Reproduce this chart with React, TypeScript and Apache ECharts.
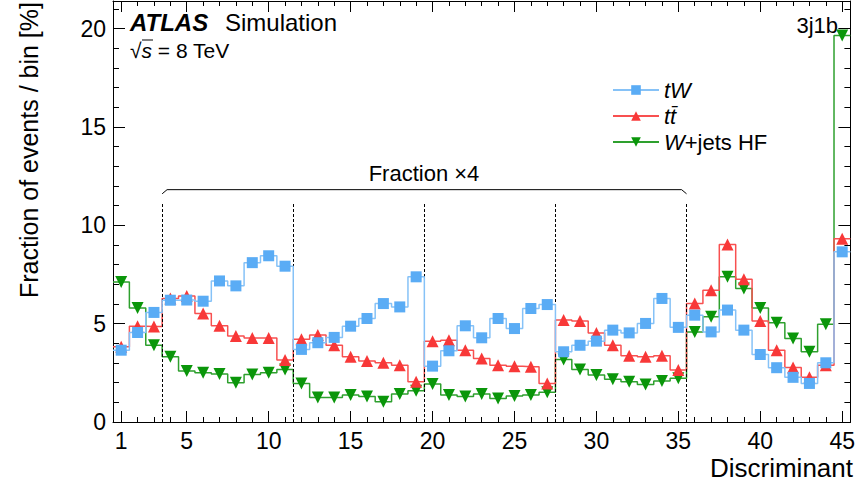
import React, { useEffect, useRef } from "react";
import * as echarts from "echarts";

// ---- Data ----
const tW = [3.65, 4.55, 5.57, 6.19, 6.2, 6.14, 7.17, 6.92, 8.1, 8.45, 7.92, 3.69, 4.03, 4.3, 4.87, 5.26, 6.02, 5.85, 7.38, 2.84, 3.62, 4.89, 4.28, 5.26, 4.75, 5.77, 5.97, 3.57, 3.9, 4.11, 4.67, 4.53, 5.01, 6.28, 4.81, 5.43, 4.58, 5.69, 4.67, 3.43, 2.76, 2.27, 1.96, 3.01, 8.65];
const ttbar = [3.82, 4.87, 4.85, 6.28, 6.4, 5.52, 4.89, 4.37, 4.27, 4.27, 3.15, 4.21, 4.42, 3.9, 3.32, 3.1, 3.01, 2.89, 2.05, 4.11, 4.16, 3.65, 3.23, 2.89, 2.84, 2.81, 1.96, 5.18, 5.13, 4.53, 3.9, 3.37, 3.32, 3.37, 2.64, 6.02, 6.7, 9.02, 7.26, 5.13, 3.65, 2.77, 2.27, 2.89, 9.32];
const wjetsHF = [7.12, 5.8, 3.9, 3.32, 2.59, 2.5, 2.44, 2.0, 2.42, 2.5, 2.67, 1.96, 1.25, 1.25, 1.37, 1.3, 1.03, 1.42, 1.59, 1.93, 1.37, 1.29, 1.42, 1.2, 1.32, 1.37, 1.51, 3.18, 2.67, 2.39, 2.17, 2.05, 1.91, 2.08, 2.22, 4.58, 5.35, 7.38, 6.79, 5.8, 5.04, 4.25, 3.57, 4.97, 19.65];

const xMajorTicks = [1, 5, 10, 15, 20, 25, 30, 35, 40, 45];
const yMajorTicks = [0, 5, 10, 15, 20];
const groupEdges = [3.5, 11.5, 19.5, 27.5, 35.5];
const braceTop = 11.81;
const braceEnd = 11.6;
const dashTop = 11.13;
const xMin = 0.5;
const xMax = 45.5;
const yMin = 0;
const yMax = 21.4;

const FONT = '"Liberation Sans", Arial, Helvetica, sans-serif';

function stepData(values: number[]) {
  const pts: any[] = [];
  pts.push({ value: [0.5, values[0]], symbol: "none" });
  values.forEach((v, i) => pts.push([i + 1, v]));
  pts.push({ value: [values.length + 0.5, values[values.length - 1]], symbol: "none" });
  return pts;
}

function range(a: number, b: number) {
  const r: number[] = [];
  for (let i = a; i <= b; i++) r.push(i);
  return r;
}

export default function App() {
  const ref = useRef<HTMLDivElement>(null);
  useEffect(() => {
    if (!ref.current) return;
    const chart = echarts.init(ref.current, undefined, { renderer: "svg" });
    const black = { color: "#000", width: 1 };
    const xMinor = range(1, 45);
    const yMinor = range(0, 21);
    const xBase = { type: "value", min: xMin, max: xMax, splitLine: { show: false } };
    const yBase = { type: "value", min: yMin, max: yMax, splitLine: { show: false } };
    const option: any = {
      animation: false,
      backgroundColor: "#fff",
      grid: { left: 113, right: 5, top: 1, bottom: 69 },
      xAxis: [
        {
          ...xBase,
          position: "bottom",
          axisLine: { show: true, onZero: false, lineStyle: black },
          axisTick: { show: true, inside: true, length: 11, customValues: xMajorTicks, lineStyle: black },
          axisLabel: { show: true, customValues: xMajorTicks, fontSize: 23, color: "#000", margin: 7, fontFamily: FONT },
        },
        {
          ...xBase,
          position: "bottom",
          axisLine: { show: false, onZero: false },
          axisTick: { show: true, inside: true, length: 5, customValues: xMinor, lineStyle: black },
          axisLabel: { show: false },
        },
        {
          ...xBase,
          position: "top",
          axisLine: { show: true, onZero: false, lineStyle: black },
          axisTick: { show: true, inside: true, length: 11, customValues: xMajorTicks, lineStyle: black },
          axisLabel: { show: false },
        },
        {
          ...xBase,
          position: "top",
          axisLine: { show: false, onZero: false },
          axisTick: { show: true, inside: true, length: 5, customValues: xMinor, lineStyle: black },
          axisLabel: { show: false },
        },
      ],
      yAxis: [
        {
          ...yBase,
          position: "left",
          axisLine: { show: true, onZero: false, lineStyle: black },
          axisTick: { show: true, inside: true, length: 12, customValues: yMajorTicks, lineStyle: black },
          axisLabel: { show: true, customValues: yMajorTicks, fontSize: 23, color: "#000", margin: 7, fontFamily: FONT },
        },
        {
          ...yBase,
          position: "left",
          axisLine: { show: false, onZero: false },
          axisTick: { show: true, inside: true, length: 6, customValues: yMinor, lineStyle: black },
          axisLabel: { show: false },
        },
        {
          ...yBase,
          position: "right",
          axisLine: { show: true, onZero: false, lineStyle: black },
          axisTick: { show: true, inside: true, length: 12, customValues: yMajorTicks, lineStyle: black },
          axisLabel: { show: false },
        },
        {
          ...yBase,
          position: "right",
          axisLine: { show: false, onZero: false },
          axisTick: { show: true, inside: true, length: 6, customValues: yMinor, lineStyle: black },
          axisLabel: { show: false },
        },
      ],
      legend: {
        orient: "vertical",
        left: 607,
        top: 74,
        itemWidth: 46,
        itemHeight: 12,
        itemGap: 4,
        data: ["tW", "tt\u0304", "W+jets HF"],
        formatter: (name: string) => {
          if (name === "tW") return "{i|tW}";
          if (name === "W+jets HF") return "{i|W}{n|+jets HF}";
          return "{i|tt\u0304}";
        },
        textStyle: {
          fontSize: 22,
          color: "#000",
          fontFamily: FONT,
          rich: {
            i: { fontStyle: "italic", fontSize: 22, fontFamily: FONT, color: "#000", lineHeight: 22 },
            n: { fontSize: 22, fontFamily: FONT, color: "#000", lineHeight: 22 },
          },
        },
      },
      series: [
        {
          name: "W+jets HF",
          type: "line",
          step: "middle",
          data: stepData(wjetsHF),
          symbol: "triangle",
          symbolRotate: 180,
          symbolSize: 12,
          itemStyle: { color: "#0a960a" },
          lineStyle: { color: "#2ea02e", width: 1.5 },
          z: 3,
        },
        {
          name: "tt\u0304",
          type: "line",
          step: "middle",
          data: stepData(ttbar),
          symbol: "triangle",
          symbolSize: 12,
          itemStyle: { color: "#f83838" },
          lineStyle: { color: "#f85050", width: 1.5 },
          z: 4,
        },
        {
          name: "tW",
          type: "line",
          step: "middle",
          data: stepData(tW),
          symbol: "rect",
          symbolSize: 11,
          itemStyle: { color: "#5aacf5" },
          lineStyle: { color: "#86c2f7", width: 1.5 },
          z: 5,
        },
        {
          name: "brace",
          type: "line",
          silent: true,
          symbol: "none",
          data: [
            [groupEdges[0], braceEnd],
            [groupEdges[0] + 0.3, braceTop],
            [groupEdges[groupEdges.length - 1] - 0.3, braceTop],
            [groupEdges[groupEdges.length - 1], braceEnd],
          ],
          lineStyle: { color: "#000", width: 1 },
          markLine: {
            silent: true,
            symbol: ["none", "none"],
            label: { show: false },
            lineStyle: { color: "#000", width: 1, type: [3, 2] },
            data: groupEdges.map((x) => [{ coord: [x, yMin] }, { coord: [x, dashTop] }]),
          },
          z: 2,
        },
      ],
      graphic: [
        { type: "text", x: 130, y: 22, style: { text: "ATLAS", font: `italic bold 24px ${FONT}`, fill: "#000", textVerticalAlign: "middle" } },
        { type: "text", x: 225, y: 22, style: { text: "Simulation", font: `24px ${FONT}`, fill: "#000", textVerticalAlign: "middle" } },
        {
          type: "text",
          x: 130,
          y: 50,
          style: {
            text: "√{i|s} = 8 TeV",
            font: `21px ${FONT}`,
            fill: "#000",
            textVerticalAlign: "middle",
            rich: { i: { fontStyle: "italic", fontSize: 21, fontFamily: FONT } },
          },
        },
        { type: "line", shape: { x1: 142, y1: 40, x2: 153, y2: 40 }, style: { stroke: "#000", lineWidth: 1 } },
        { type: "text", x: 838, y: 25, style: { text: "3j1b", font: `22px ${FONT}`, fill: "#000", textAlign: "right", textVerticalAlign: "middle" } },
        { type: "text", x: 424, y: 173, style: { text: "Fraction ×4", font: `22px ${FONT}`, fill: "#000", textAlign: "center", textVerticalAlign: "middle" } },
        { type: "text", x: 853, y: 468, style: { text: "Discriminant", font: `26px ${FONT}`, fill: "#000", textAlign: "right", textVerticalAlign: "middle" } },
        {
          type: "text",
          x: 29,
          y: 2,
          rotation: Math.PI / 2,
          style: { text: "Fraction of events / bin [%]", font: `25px ${FONT}`, fill: "#000", textAlign: "right", textVerticalAlign: "middle" },
        },
      ],
    };
    chart.setOption(option);
    return () => chart.dispose();
  }, []);
  return <div ref={ref} style={{ position: "fixed", left: 0, top: 0, width: 858, height: 491 }} />;
}
